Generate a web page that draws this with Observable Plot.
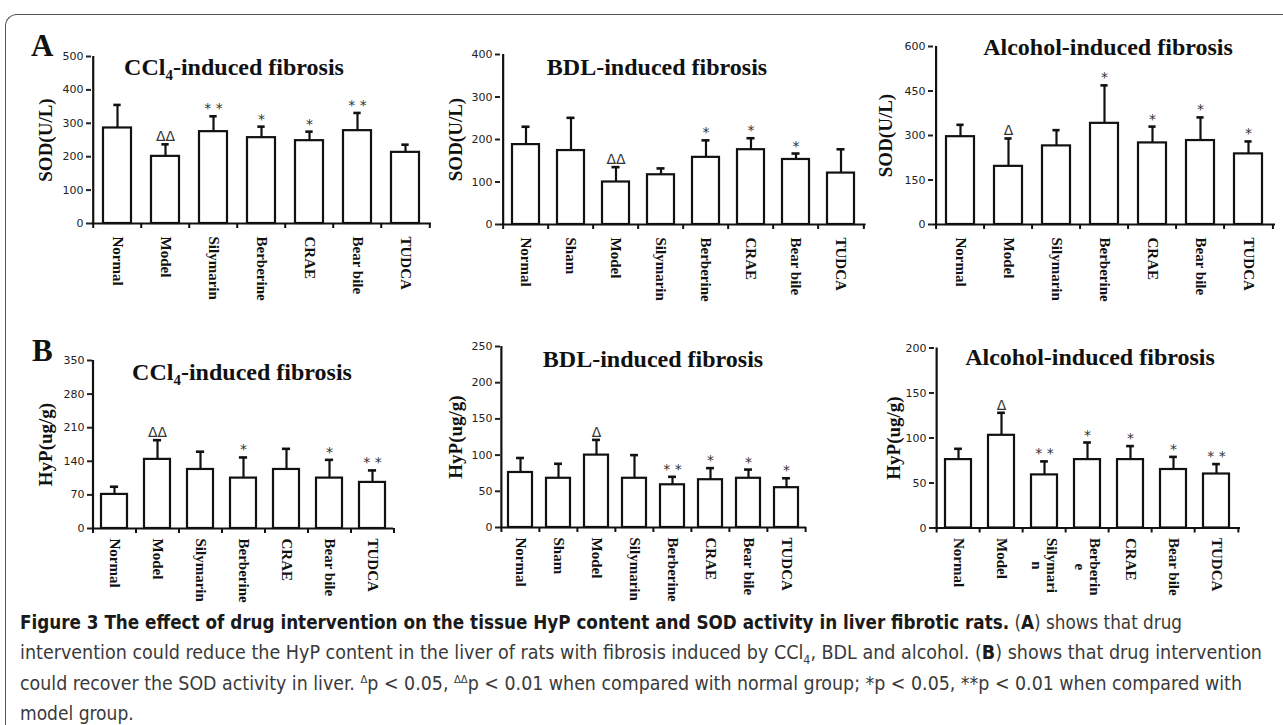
<!DOCTYPE html>
<html><head><meta charset="utf-8">
<script src="https://cdn.jsdelivr.net/npm/d3@7"></script>
<script src="https://cdn.jsdelivr.net/npm/@observablehq/plot@0.6"></script>
<style>
body{margin:0;background:#fff;}
#root{position:relative;width:1283px;height:725px;overflow:hidden;background:#fff;}
.panel{position:absolute;}
.title{position:absolute;font-family:"Liberation Serif","Times New Roman",serif;font-weight:bold;font-size:24px;line-height:24px;white-space:nowrap;color:#111;transform:translateX(-50%);}
.title sub{font-size:15px;line-height:0;vertical-align:baseline;position:relative;top:5px;}
.letter{position:absolute;font-family:"Liberation Serif","Times New Roman",serif;font-weight:bold;font-size:31px;line-height:31px;color:#111;}
#frame{position:absolute;left:5px;top:14px;width:1300px;height:800px;border-top:1.5px solid #555;border-left:1.5px solid #555;border-top-left-radius:12px;}
#caption{position:absolute;left:20px;top:607px;font-family:"DejaVu Sans Condensed","DejaVu Sans",sans-serif;font-size:19px;line-height:30.4px;color:#3a3a3a;}
#caption .ln{display:block;white-space:nowrap;width:max-content;transform-origin:0 50%;}
#caption b{color:#1a1a1a;}
#caption sup{font-size:11px;line-height:0;}
#caption sub{font-size:12px;line-height:0;}
</style>
</head><body>
<div id="root">
  <div id="frame"></div>
  <div class="letter" style="left:31px;top:30px;">A</div>
  <div class="letter" style="left:32px;top:335px;">B</div>
  <div class="title" style="left:234px;top:55px;">CCl<sub>4</sub>-induced fibrosis</div>
  <div class="title" style="left:657px;top:55px;">BDL-induced fibrosis</div>
  <div class="title" style="left:1108px;top:35px;">Alcohol-induced fibrosis</div>
  <div class="title" style="left:242px;top:360px;">CCl<sub>4</sub>-induced fibrosis</div>
  <div class="title" style="left:653px;top:347px;">BDL-induced fibrosis</div>
  <div class="title" style="left:1090px;top:345px;">Alcohol-induced fibrosis</div>
  <div id="caption">
    <span class="ln" data-end="1182"><b>Figure 3 The effect of drug intervention on the tissue HyP content and SOD activity in liver fibrotic rats.</b> (<b>A</b>) shows that drug</span>
    <span class="ln" data-end="1262">intervention could reduce the HyP content in the liver of rats with fibrosis induced by CCl<sub>4</sub>, BDL and alcohol. (<b>B</b>) shows that drug intervention</span>
    <span class="ln" data-end="1242">could recover the SOD activity in liver. <sup>Δ</sup>p &lt; 0.05, <sup>ΔΔ</sup>p &lt; 0.01 when compared with normal group; *p &lt; 0.05, **p &lt; 0.01 when compared with</span>
    <span class="ln">model group.</span>
  </div>
</div>
<script>
// ---------- data ----------
const groups7 = ["Normal","Model","Silymarin","Berberine","CRAE","Bear bile","TUDCA"];
const groups8 = ["Normal","Sham","Model","Silymarin","Berberine","CRAE","Bear bile","TUDCA"];
const labelsAlcB = ["Normal","Model","Silymari\nn","Berberin\ne","CRAE","Bear bile","TUDCA"];

const sodCCl4 = [286,201,275,257,248,278,213];
const sodCCl4Sd = [69,36,46,33,27,53,23];
const sodCCl4Sig = ["","ΔΔ","* *","*","*","* *",""];
const sodCCl4Ticks = [0,100,200,300,400,500];

const sodBDL = [188,174,100,117,158,176,153,121];
const sodBDLSd = [42,77,35,15,40,27,14,56];
const sodBDLSig = ["","","ΔΔ","","*","*","*",""];
const sodBDLTicks = [0,100,200,300,400];

const sodAlc = [296,196,265,341,275,283,238];
const sodAlcSd = [40,94,53,128,55,78,42];
const sodAlcSig = ["","Δ","","*","*","*","*"];
const sodAlcTicks = [0,150,300,450,600];

const hypCCl4 = [71,144,123,105,123,105,96];
const hypCCl4Sd = [16,40,37,43,43,38,25];
const hypCCl4Sig = ["","ΔΔ","","*","","*","* *"];
const hypCCl4Ticks = [0,70,140,210,280,350];

const hypBDL = [76,68,100,68,59,66,68,55];
const hypBDLSd = [20,20,21,32,11,16,12,13];
const hypBDLSig = ["","","Δ","","* *","*","*","*"];
const hypBDLTicks = [0,50,100,150,200,250];

const hypAlc = [76,103,59,76,76,65,60];
const hypAlcSd = [12,25,15,19,15,14,11];
const hypAlcSig = ["","Δ","* *","*","*","*","* *"];
const hypAlcTicks = [0,50,100,150,200];

const sodLabel = "SOD(U/L)";
const hypLabel = "HyP(ug/g)";

// ---------- drawing ----------
const SERIF = "Liberation Serif, Times New Roman, serif";
const LABEL_FONT_SIZE = 15;
const canvas = document.createElement("canvas").getContext("2d");
canvas.font = `bold ${LABEL_FONT_SIZE}px Liberation Serif`;

function panel(cfg) {
  const {groups, labels = groups, means, sds, sig, ticks, yLabel, left, top, width, height = 273,
         mL, mR, mT, mB, pad, yLabelDx, labelDy} = cfg;
  const data = groups.map((g, i) => ({g, mean: means[i], sd: sds[i], sig: sig[i], label: labels[i]}));
  const plotW = width - mL - mR;
  const plotH = height - mT - mB;
  const step = plotW / groups.length;
  const bw = step * (1 - pad);
  const capInset = (bw - 8) / 2;
  const ymax = ticks[ticks.length - 1];
  const ink = "#111";
  const plain = data.filter(d => !d.label.includes("\n"));
  const wrapped = data.filter(d => d.label.includes("\n"));
  const labelStyle = {fontFamily: SERIF, fontWeight: "bold", fontSize: LABEL_FONT_SIZE, fill: ink, rotate: 90};
  const marks = [
    Plot.barY(data, {x: "g", y: "mean", fill: "white", stroke: ink, strokeWidth: 2.2}),
    Plot.ruleX(data, {x: "g", y1: "mean", y2: d => d.mean + d.sd, stroke: ink, strokeWidth: 2.2}),
    Plot.tickY(data, {x: "g", y: d => d.mean + d.sd, stroke: ink, strokeWidth: 2.6, insetLeft: capInset, insetRight: capInset}),
    Plot.ruleY([0], {stroke: ink, strokeWidth: 2.2}),
    Plot.ruleX([groups[0]], {x: d => d, y1: 0, y2: ymax, dx: -step / 2, stroke: ink, strokeWidth: 2.2}),
    Plot.ruleX(groups, {x: d => d, dx: -step / 2, insetTop: plotH - 5, dy: 5, stroke: ink, strokeWidth: 2}),
    Plot.ruleX([groups[groups.length - 1]], {x: d => d, dx: step / 2, insetTop: plotH - 5, dy: 5, stroke: ink, strokeWidth: 2}),
    Plot.axisY({ticks, tickSize: 5, tickPadding: 3, strokeWidth: 2, label: null, fontSize: 11, color: "#222"}),
    Plot.text(data, {x: "g", y: d => d.mean + d.sd, text: "sig", lineAnchor: "bottom", dy: -3,
                     fontSize: 14, fontFamily: "DejaVu Sans, sans-serif", fill: "#333"}),
    Plot.text(plain, {x: "g", text: "label", frameAnchor: "bottom", textAnchor: "start", lineAnchor: "middle",
                      dy: labelDy, ...labelStyle}),
    ...wrapped.map(d => Plot.text([d], {x: "g", text: "label", frameAnchor: "bottom", textAnchor: "middle",
                      lineAnchor: "middle", lineHeight: 1.0,
                      dy: labelDy + canvas.measureText(d.label.split("\n")[0]).width / 2, ...labelStyle})),
    Plot.text([yLabel], {text: d => d, frameAnchor: "left", rotate: -90, dx: yLabelDx, textAnchor: "middle",
                         lineAnchor: "middle", fontFamily: SERIF, fontWeight: "bold", fontSize: 19, fill: ink})
  ];
  const chart = Plot.plot({
    width, height, marginLeft: mL, marginRight: mR, marginTop: mT, marginBottom: mB,
    style: {fontFamily: "DejaVu Sans, sans-serif", fontSize: "11px", background: "transparent", overflow: "visible", color: "#222"},
    x: {domain: groups, paddingInner: pad, paddingOuter: pad / 2, align: 0.5, axis: null},
    y: {domain: [0, ymax]},
    marks
  });
  const wrap = document.createElement("div");
  wrap.className = "panel";
  wrap.style.left = left + "px";
  wrap.style.top = top + "px";
  wrap.appendChild(chart);
  document.getElementById("root").appendChild(wrap);
}

panel({groups: groups7, means: sodCCl4, sds: sodCCl4Sd, sig: sodCCl4Sig, ticks: sodCCl4Ticks, yLabel: sodLabel,
       left: 0, top: 30, width: 440, mL: 91, mR: 9, mT: 26, mB: 80, pad: 0.41, yLabelDx: -46, labelDy: 13});
panel({groups: groups8, means: sodBDL, sds: sodBDLSd, sig: sodBDLSig, ticks: sodBDLTicks, yLabel: sodLabel,
       left: 430, top: 30, width: 440, mL: 70, mR: 4.4, mT: 24, mB: 79, pad: 0.41, yLabelDx: -45, labelDy: 13});
panel({groups: groups7, means: sodAlc, sds: sodAlcSd, sig: sodAlcSig, ticks: sodAlcTicks, yLabel: sodLabel,
       left: 850, top: 30, width: 433, mL: 83, mR: 8, mT: 16, mB: 79, pad: 0.41, yLabelDx: -48, labelDy: 13});
panel({groups: groups7, means: hypCCl4, sds: hypCCl4Sd, sig: hypCCl4Sig, ticks: hypCCl4Ticks, yLabel: hypLabel,
       left: 0, top: 330, width: 400, mL: 92, mR: 7, mT: 30, mB: 75, pad: 0.4, yLabelDx: -47, labelDy: 10});
panel({groups: groups8, means: hypBDL, sds: hypBDLSd, sig: hypBDLSig, ticks: hypBDLTicks, yLabel: hypLabel,
       left: 430, top: 330, width: 380, mL: 70, mR: 4, mT: 16, mB: 76, pad: 0.37, yLabelDx: -45, labelDy: 10});
panel({groups: groups7, labels: labelsAlcB, means: hypAlc, sds: hypAlcSd, sig: hypAlcSig, ticks: hypAlcTicks, yLabel: hypLabel,
       left: 850, top: 330, width: 400, mL: 84, mR: 10, mT: 17.5, mB: 75.5, pad: 0.4, yLabelDx: -41, labelDy: 10});

// fit caption lines to the reference line lengths
const capLeft = 20;
document.querySelectorAll("#caption .ln[data-end]").forEach(el => {
  const target = +el.dataset.end - capLeft;
  const w = el.getBoundingClientRect().width;
  if (w > 0) el.style.transform = `scaleX(${target / w})`;
});
</script>
</body></html>
